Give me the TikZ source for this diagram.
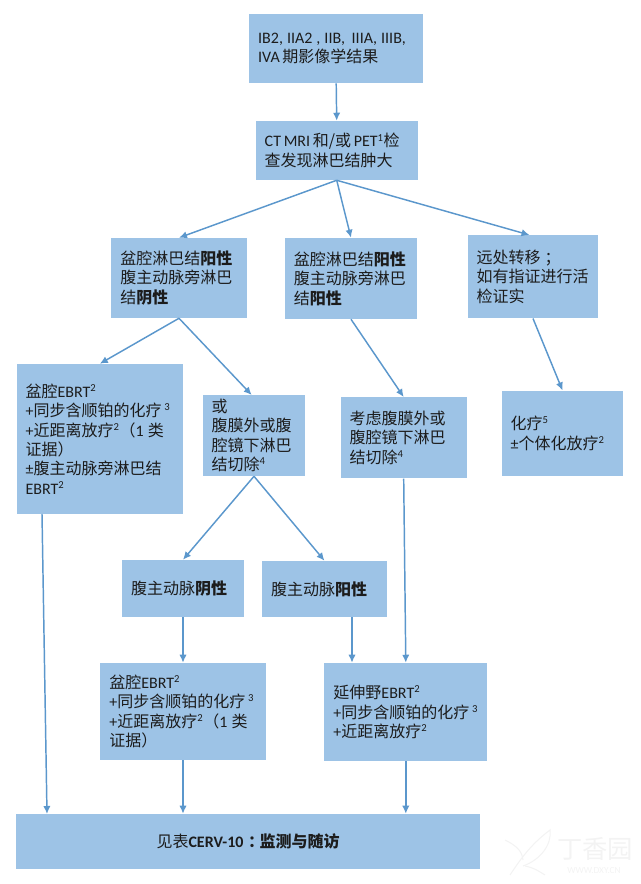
\documentclass[tikz,border=0pt]{standalone}
\usepackage{fontspec}
\usetikzlibrary{arrows.meta}
\setmainfont{Noto Sans CJK SC}
\newfontfamily\latinfont{Carlito}
\newcommand{\en}[1]{{\latinfont\spaceskip 2pt\relax #1}}
\newcommand{\upnum}[1]{\en{\textsuperscript{#1}}}
\newcommand{\tightsp}{\en{\ }}
\definecolor{boxblue}{HTML}{9DC3E6}
\definecolor{linkblue}{HTML}{5B97CC}
\definecolor{inkgray}{HTML}{1C1C1C}
\definecolor{markgray}{HTML}{F3F3F3}
\tikzset{
	stepbox/.style 2 args={draw=none,fill=boxblue,text=inkgray,align=left,inner xsep=0pt,inner ysep=0pt,
		font=\fontsize{12}{14.6}\selectfont,
		minimum width=#1*0.75pt,minimum height=#2*0.75pt,text width=(#1-18)*0.75pt},
	link/.style={-{Latex[length=6pt,width=5.5pt]},line width=1.1pt,color=linkblue},
}
\begin{document}
\begin{tikzpicture}[x=0.75pt,y=-0.75pt]
	\useasboundingbox (0,0) rectangle (640,884);
	
	\node (stage) at (336.2,48.5)[stepbox={174}{69}]{\en{IB2,\kern1pt{} IIA2\kern1pt{} ,\kern1pt{} IIB,\kern5pt IIIA,\kern1pt{} IIIB,}\\\en{IVA}\tightsp 期影像学结果};
	\node (scan) at (336.7,150.5)[stepbox={162}{59}]{\en{CT MRI}\tightsp 和/或\tightsp\en{PET}\upnum{1}检\\查发现淋巴结肿大};
	
	\node (pelvic) at (179,278)[stepbox={135.4}{80}]{盆腔淋巴结\textbf{阳性}\\腹主动脉旁淋巴\\结\textbf{阴性}};
	\node (both) at (351,278.5)[stepbox={132.5}{81}]{盆腔淋巴结\textbf{阳性}\\腹主动脉旁淋巴\\结\textbf{阳性}};
	\node (distant) at (533,276.6)[stepbox={130.7}{83.3}]{远处转移\kern3pt；\\如有指证进行活\\检证实};
	
	\node (chemoa) at (99.8,439)[stepbox={166.3}{150}]{盆腔\en{EBRT}\upnum{2}\\\en{+}同步含顺铂的化疗\kern2pt\upnum{3}\\\en{+}近距离放疗\upnum{2}（\en{1}\kern3pt 类\\证据）\\\en{±}腹主动脉旁淋巴结\\\en{EBRT}\upnum{2}};
	\node (surgerya) at (254,435.5)[stepbox={102.6}{81}]{或\\腹膜外或腹\\腔镜下淋巴\\结切除\upnum{4}};
	\node (surgeryb) at (403.7,437.8)[stepbox={126}{81}]{考虑腹膜外或\\腹腔镜下淋巴\\结切除\upnum{4}};
	\node (chemob) at (562.5,433.3)[stepbox={121.6}{85.3}]{化疗\upnum{5}\\\en{±}个体化放疗\upnum{2}};
	
	\node (neg) at (183,588.5)[stepbox={122}{57}]{腹主动脉\textbf{阴性}};
	\node (pos) at (324.5,589)[stepbox={125}{56}]{腹主动脉\textbf{阳性}};
	
	\node (pelvicrt) at (183,711.5)[stepbox={165.2}{97}]{盆腔\en{EBRT}\upnum{2}\\\en{+}同步含顺铂的化疗\kern2pt\upnum{3}\\\en{+}近距离放疗\upnum{2}（\en{1}\kern3pt 类\\证据）};
	\node (extended) at (405.8,712)[stepbox={162.7}{98}]{延伸野\en{EBRT}\upnum{2}\\\en{+}同步含顺铂的化疗\kern2pt\upnum{3}\\\en{+}近距离放疗\upnum{2}};
	\node (follow) at (248,841.5)[stepbox={463.5}{55},align=center]{见表\textbf{\en{CERV-10}\kern3.5pt：\kern-3.5pt 监测与随访}};
	
	\coordinate (chemoout) at (42,514);
	\coordinate (followin) at (47,814);
	\coordinate (posout) at (352,617);
	\coordinate (distantin) at (529.5,235);
	\coordinate (surgeryin) at (251.7,395);
	
	\draw [link](stage.south)--(scan.north);
	\draw [link](scan.south)--(pelvic.north);
	\draw [link](scan.south)--(both.north);
	\draw [link](scan.south)--(distantin);
	\draw [link](pelvic.south)--(chemoa.north);
	\draw [link](pelvic.south)--(surgeryin);
	\draw [link](both.south)--(surgeryb.north);
	\draw [link](distant.south)--(chemob.north);
	\draw [link](surgerya.south)--(neg.north);
	\draw [link](surgerya.south)--(pos.north);
	\draw [link](neg.south)--(pelvicrt.north);
	\draw [link](posout)--(posout|-extended.north);
	\draw [link](surgeryb.south)--(extended.north);
	\draw [link](chemoout)--(followin);
	\draw [link](pelvicrt.south)--(pelvicrt.south|-follow.north);
	\draw [link](extended.south)--(extended.south|-follow.north);
	
	%watermark
	\draw [color=markgray,line width=0.8pt](510,875)..controls (520,860) and (530,845) ..(550,830)..controls (552,845) and (540,860) ..(523,866);
	\draw [color=markgray,line width=0.8pt](505,840)..controls (515,845) and (522,850) ..(523,860);
	\draw [color=markgray,line width=0.8pt](525,866)..controls (535,868) and (540,872) ..(545,875);
	\node (markcn) at (595,849)[color=markgray,font=\fontsize{19}{19}\selectfont]{丁香园};
	\node (marken) at (594,870)[color=markgray,font=\fontsize{7}{8}\selectfont]{\en{WWW.DXY.CN}};
\end{tikzpicture}
\end{document}
